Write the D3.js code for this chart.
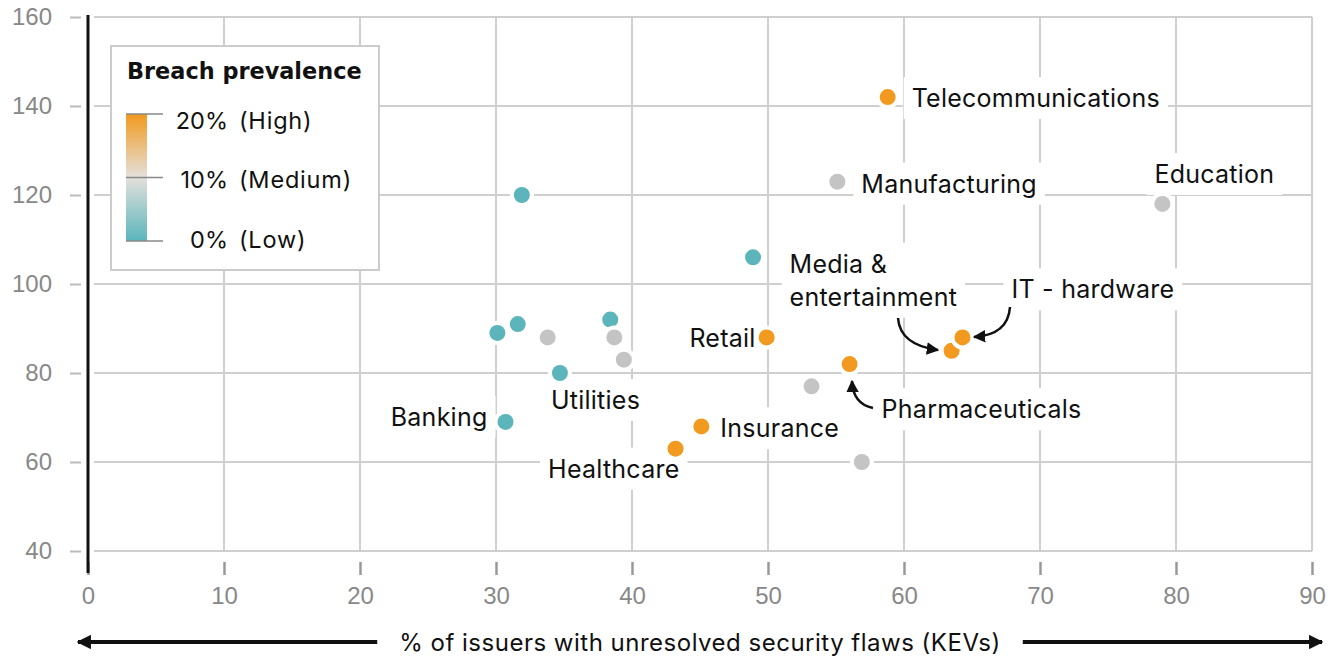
<!DOCTYPE html>
<html>
<head>
<meta charset="utf-8">
<script src="https://cdn.jsdelivr.net/npm/d3@7"></script>
<style>
  body { margin: 0; background: #fff; }
  svg { display: block; font-family: "Inter", "Roboto", sans-serif; }
  .grid line { stroke: #cfcfcf; stroke-width: 2; }
  .tickLabel { fill: #888; font-size: 24px; }
  .label { fill: #111; font-size: 25px; letter-spacing: 0.25px; }
</style>
</head>
<body>
<script>
(function(){
    //data
    var sectors = ["Telecommunications", "Manufacturing", "Education", "", "", "Retail",
                   "Pharmaceuticals", "", "Media & entertainment", "IT - hardware", "Insurance",
                   "Healthcare", "", "", "", "", "Utilities", "", "", "", "Banking"];
    var kevPct = [58.8, 55.1, 79.0, 31.9, 48.9, 49.9,
                  56.0, 53.2, 63.5, 64.3, 45.1,
                  43.2, 56.9, 30.1, 31.6, 33.8, 34.7, 38.4, 38.7, 39.4, 30.7];
    var yValue = [142, 123, 118, 120, 106, 88,
                  82, 77, 85, 88, 68,
                  63, 60, 89, 91, 88, 80, 92, 88, 83, 69];
    var breach = ["High", "Medium", "Medium", "Low", "Low", "High",
                  "High", "Medium", "High", "High", "High",
                  "High", "Medium", "Low", "Low", "Medium", "Low", "Low", "Medium", "Medium", "Low"];
    var xTicks = [0, 10, 20, 30, 40, 50, 60, 70, 80, 90];
    var yTicks = [40, 60, 80, 100, 120, 140, 160];
    var legendLevels = ["20%", "10%", "0%"];
    var legendNames = ["(High)", "(Medium)", "(Low)"];
    var xTitle = "% of issuers with unresolved security flaws (KEVs)";

    //label placement relative to each dot
    var placement = {
        "Telecommunications": {dx: 24, dy: 1, anchor: "start"},
        "Manufacturing": {dx: 24, dy: 2, anchor: "start"},
        "Education": {dx: -8, dy: -30, anchor: "start"},
        "Retail": {dx: -11, dy: 1, anchor: "end"},
        "Pharmaceuticals": {dx: 32, dy: 45, anchor: "start"},
        "Media & entertainment": {dx: -162, dy: -87, anchor: "start"},
        "IT - hardware": {dx: 49, dy: -48, anchor: "start"},
        "Insurance": {dx: 19, dy: 2, anchor: "start"},
        "Healthcare": {dx: 4, dy: 20, anchor: "end"},
        "Utilities": {dx: -9, dy: 27, anchor: "start"},
        "Banking": {dx: -18, dy: -5, anchor: "end"}
    };

    var width = 1335, height = 658;

    var svg = d3.select("body")
        .append("svg")
        .attr("width", width)
        .attr("height", height);

    var x = d3.scaleLinear().domain([0, 90]).range([88, 1312]);
    var y = d3.scaleLinear().domain([40, 160]).range([551, 17]);

    var color = d3.scaleOrdinal()
        .domain(["High", "Medium", "Low"])
        .range(["#f29a1f", "#c4c4c4", "#5bb5bb"]);

    var defs = svg.append("defs");
    var grad = defs.append("linearGradient")
        .attr("id", "breachGrad")
        .attr("x1", 0).attr("y1", 0).attr("x2", 0).attr("y2", 1);
    grad.append("stop").attr("offset", "0%").attr("stop-color", "#f29a1f");
    grad.append("stop").attr("offset", "50%").attr("stop-color", "#e4e0dc");
    grad.append("stop").attr("offset", "100%").attr("stop-color", "#5bb5bb");

    defs.append("marker")
        .attr("id", "head")
        .attr("viewBox", "0 0 10 10")
        .attr("refX", 9).attr("refY", 5)
        .attr("markerWidth", 5).attr("markerHeight", 5)
        .attr("markerUnits", "strokeWidth")
        .attr("orient", "auto")
        .append("path")
        .attr("d", "M0,0 L10,5 L0,10 Z")
        .attr("fill", "#111");

    //grid lines
    var grid = svg.append("g").attr("class", "grid");
    grid.selectAll(".hgrid")
        .data(yTicks)
        .enter()
        .append("line")
        .attr("x1", 94).attr("x2", x(90))
        .attr("y1", function(d){ return y(d); })
        .attr("y2", function(d){ return y(d); });
    grid.selectAll(".vgrid")
        .data(xTicks.slice(1))
        .enter()
        .append("line")
        .attr("x1", function(d){ return x(d); })
        .attr("x2", function(d){ return x(d); })
        .attr("y1", y(160)).attr("y2", y(40));

    //y axis ticks + labels
    var yAxis = d3.axisLeft(y)
        .tickValues(yTicks)
        .tickSize(11)
        .tickPadding(18);
    var ya = svg.append("g")
        .attr("transform", "translate(81,0)")
        .call(yAxis);
    ya.select(".domain").remove();
    ya.selectAll(".tick line").attr("stroke", "#bbb").attr("stroke-width", 2);
    ya.selectAll(".tick text").attr("class", "tickLabel").attr("font-family", null).attr("font-size", null);

    //x axis ticks + labels
    var xAxis = d3.axisBottom(x)
        .tickValues(xTicks)
        .tickSize(13)
        .tickPadding(12);
    var xa = svg.append("g")
        .attr("transform", "translate(0,562)")
        .call(xAxis);
    xa.select(".domain").remove();
    xa.selectAll(".tick line").attr("stroke", "#999").attr("stroke-width", 2.5);
    xa.selectAll(".tick text").attr("class", "tickLabel").attr("font-family", null).attr("font-size", null)
        .attr("dy", "0.7em");

    //black vertical axis line
    svg.append("line")
        .attr("x1", x(0)).attr("x2", x(0))
        .attr("y1", 15).attr("y2", 573)
        .attr("stroke", "#111").attr("stroke-width", 3);

    //legend
    var legend = svg.append("g").attr("class", "legend");
    legend.append("rect")
        .attr("x", 111).attr("y", 46)
        .attr("width", 268).attr("height", 224)
        .attr("fill", "#fff")
        .attr("stroke", "#ccc").attr("stroke-width", 2);
    legend.append("text")
        .attr("x", 127).attr("y", 79)
        .attr("font-family", "'DejaVu Sans', sans-serif")
        .attr("font-size", "22.4px").attr("font-weight", 700)
        .attr("fill", "#111")
        .text("Breach prevalence");
    legend.append("rect")
        .attr("x", 126).attr("y", 114)
        .attr("width", 21).attr("height", 127)
        .attr("fill", "url(#breachGrad)");
    var lScale = d3.scalePoint().domain(legendLevels).range([114, 241]);
    var lBase = [129, 188, 248];
    legend.selectAll(".ltick")
        .data(legendLevels)
        .enter()
        .append("line")
        .attr("x1", 126).attr("x2", 163)
        .attr("y1", function(d){ return lScale(d); })
        .attr("y2", function(d){ return lScale(d); })
        .attr("stroke", "#888").attr("stroke-width", 1.5);
    legend.selectAll(".lpct")
        .data(legendLevels)
        .enter()
        .append("text")
        .attr("x", 228)
        .attr("y", function(d, i){ return lBase[i]; })
        .attr("text-anchor", "end")
        .attr("font-size", "23.5px").attr("fill", "#111")
        .text(function(d){ return d; });
    legend.selectAll(".lname")
        .data(legendNames)
        .enter()
        .append("text")
        .attr("x", 239)
        .attr("y", function(d, i){ return lBase[i]; })
        .attr("font-size", "23.5px").attr("fill", "#111")
        .attr("letter-spacing", "0.8px")
        .text(function(d){ return d; });

    //data points
    var points = sectors.map(function(s, i){
        return {name: s, kev: kevPct[i], val: yValue[i], level: breach[i]};
    });

    //labels with white backing
    var labels = svg.append("g").attr("class", "labels");
    points.forEach(function(p){
        if (!p.name) return;
        var pl = placement[p.name];
        var g = labels.append("g");
        var t = g.append("text")
            .attr("class", "label")
            .attr("text-anchor", pl.anchor);
        var lines = p.name === "Media & entertainment" ? ["Media &", "entertainment"] : [p.name];
        lines.forEach(function(line, k){
            t.append("tspan")
                .attr("x", x(p.kev) + pl.dx)
                .attr("y", y(p.val) + pl.dy + k * 33)
                .attr("dy", "0.36em")
                .text(line);
        });
        var bb = t.node().getBBox();
        g.insert("rect", "text")
            .attr("x", bb.x - 8).attr("y", bb.y - 6)
            .attr("width", bb.width + 16).attr("height", bb.height + 12)
            .attr("fill", "#fff");
    });

    var dots = svg.append("g").attr("class", "dots")
        .selectAll("g")
        .data(points)
        .enter()
        .append("g")
        .attr("transform", function(d){ return "translate(" + x(d.kev) + "," + y(d.val) + ")"; });
    dots.append("circle").attr("r", 12).attr("fill", "#fff");
    dots.append("circle").attr("r", 8).attr("fill", function(d){ return color(d.level); });

    //annotation arrows
    var arrows = [
        "M898,318 Q900,345 938,350",
        "M1010,307 Q1008,335 974,337",
        "M873,408 Q853,404 852,381"
    ];
    svg.append("g").selectAll("path")
        .data(arrows)
        .enter()
        .append("path")
        .attr("d", function(d){ return d; })
        .attr("fill", "none")
        .attr("stroke", "#111")
        .attr("stroke-width", 2.5)
        .attr("marker-end", "url(#head)");

    //x axis title with arrows
    var title = svg.append("text")
        .attr("x", (x(0) + x(90)) / 2)
        .attr("y", 642)
        .attr("dy", "0.36em")
        .attr("text-anchor", "middle")
        .attr("font-size", "24px")
        .attr("letter-spacing", "0.5px")
        .attr("fill", "#111")
        .text(xTitle);
    var tb = title.node().getBBox();
    defs.append("marker")
        .attr("id", "bighead")
        .attr("viewBox", "0 0 10 10")
        .attr("refX", 9).attr("refY", 5)
        .attr("markerWidth", 3.6).attr("markerHeight", 3.6)
        .attr("markerUnits", "strokeWidth")
        .attr("orient", "auto")
        .append("path")
        .attr("d", "M0,0 L10,5 L0,10 Z")
        .attr("fill", "#111");
    svg.append("line")
        .attr("x1", tb.x - 22).attr("x2", 78)
        .attr("y1", 642).attr("y2", 642)
        .attr("stroke", "#111").attr("stroke-width", 4)
        .attr("marker-end", "url(#bighead)");
    svg.append("line")
        .attr("x1", tb.x + tb.width + 22).attr("x2", 1322)
        .attr("y1", 642).attr("y2", 642)
        .attr("stroke", "#111").attr("stroke-width", 4)
        .attr("marker-end", "url(#bighead)");
})();
</script>
</body>
</html>
